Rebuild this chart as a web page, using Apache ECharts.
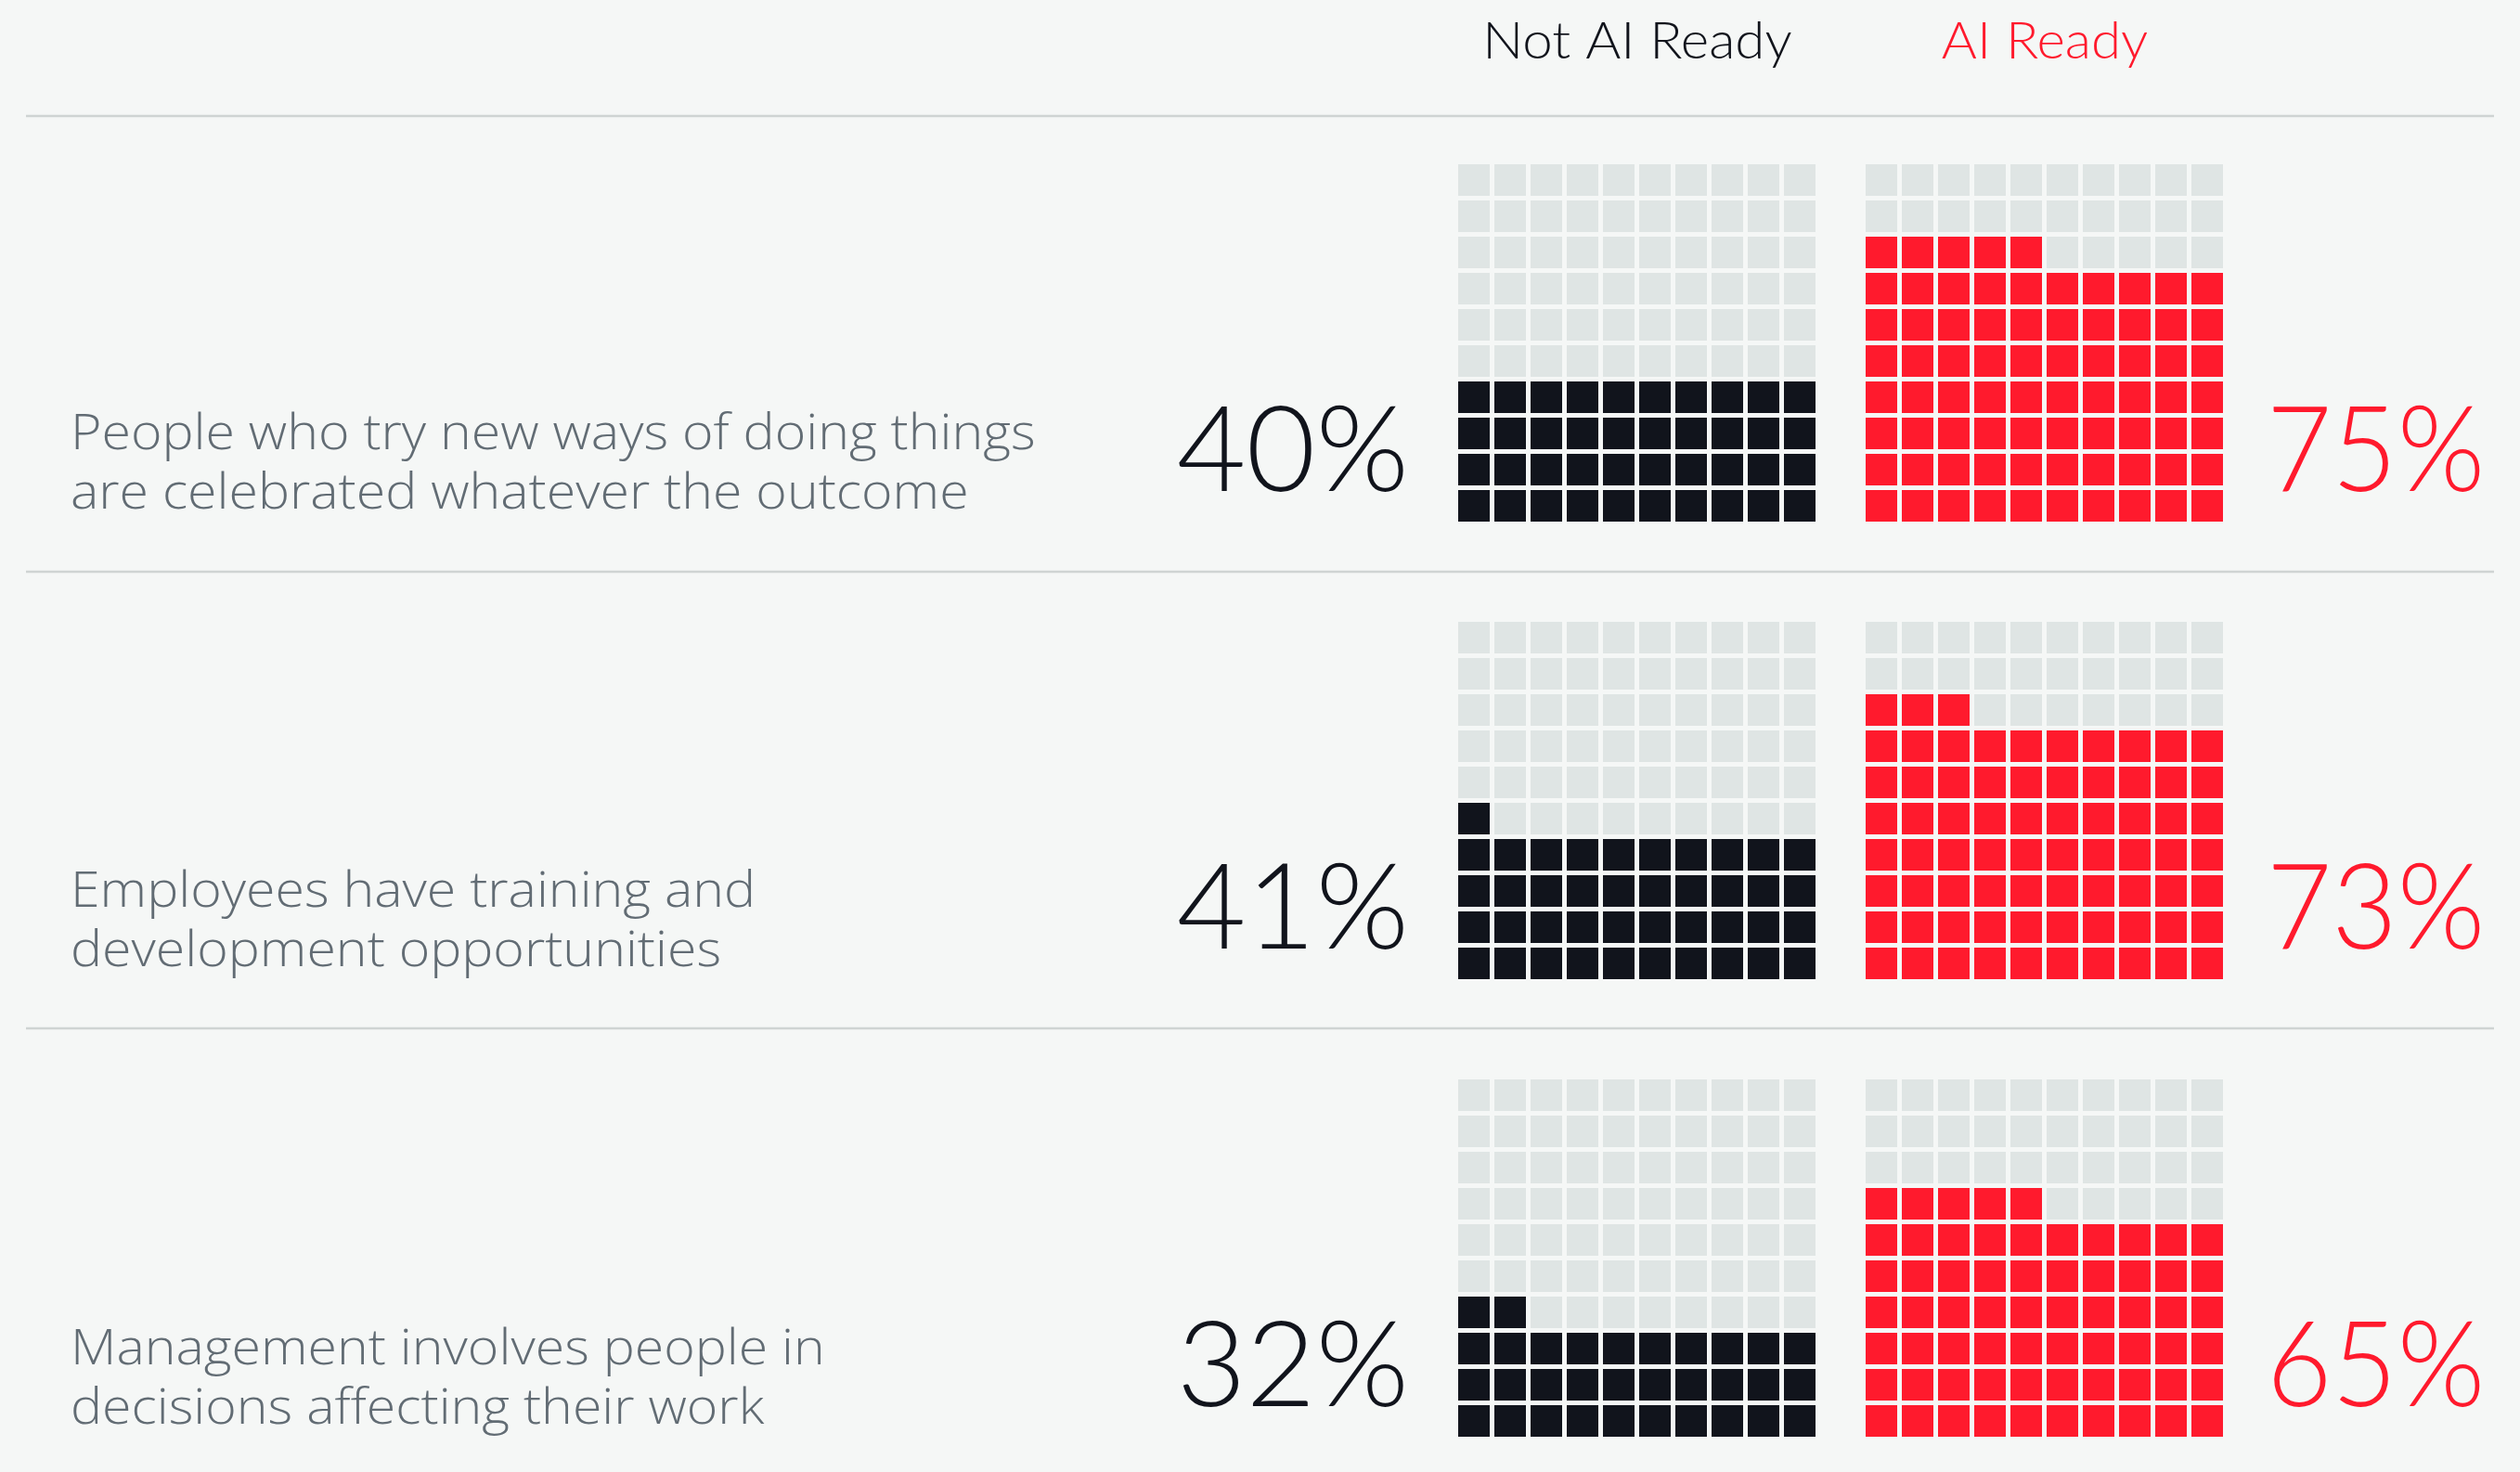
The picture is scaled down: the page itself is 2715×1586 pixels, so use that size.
<!DOCTYPE html>
<html><head><meta charset="utf-8">
<script src="https://cdn.jsdelivr.net/npm/echarts@6/dist/echarts.min.js"></script>
<style>html,body{margin:0;padding:0;background:#f5f7f6;}#c{width:2715px;height:1586px;}</style>
</head><body><div id="c"></div>
<script>
// ---- data ----
const categories = [
  "People who try new ways of doing things\nare celebrated whatever the outcome",
  "Employees have training and\ndevelopment opportunities",
  "Management involves people in\ndecisions affecting their work"
];
const seriesNames = ["Not AI Ready", "AI Ready"];
const notAiReady = [40, 41, 32];
const aiReady = [75, 73, 65];

// ---- styling / layout ----
const BG = '#f5f7f6', DARK = '#11141c', RED = '#ff1a2d', EMPTY = '#dfe5e4', LABEL = '#626c74', RULE = '#cfd4d3';
const rowTops = [177, 670, 1163];
const colLefts = [1571, 2010];
const gridSize = 390, gap = 5;
const FONT = 'Lato';

function waffleCells(value) {
  const out = [];
  for (let i = 0; i < 100; i++) out.push([i % 10, Math.floor(i / 10), i < value ? 1 : 0]);
  return out;
}

const grids = [], xAxes = [], yAxes = [], series = [], graphics = [];
const valuesBySeries = [notAiReady, aiReady];
const colors = [DARK, RED];
let gi = 0;
for (let r = 0; r < categories.length; r++) {
  for (let s = 0; s < 2; s++) {
    grids.push({left: colLefts[s], top: rowTops[r], width: gridSize, height: gridSize});
    xAxes.push({type: 'value', gridIndex: gi, min: 0, max: 10, show: false});
    yAxes.push({type: 'value', gridIndex: gi, min: 0, max: 10, show: false});
    const color = colors[s];
    series.push({
      type: 'custom', name: seriesNames[s], xAxisIndex: gi, yAxisIndex: gi,
      data: waffleCells(valuesBySeries[s][r]), animation: false,
      renderItem: function (params, api) {
        const p = api.coord([api.value(0), api.value(1) + 1]);
        const sz = api.size([1, 1]);
        return {type: 'rect', shape: {x: p[0], y: p[1], width: sz[0] - gap, height: sz[1] - gap},
          style: {fill: api.value(2) ? color : EMPTY}};
      }
    });
    gi++;
  }
  const base = rowTops[r];
  // category label
  graphics.push({type: 'text', x: 76, y: base + 260, scaleX: 1.08, style: {
    text: categories[r], font: '300 53px "Open Sans"', fill: LABEL, lineHeight: 64, textAlign: 'left', textVerticalAlign: 'top'}});
  // percentages
  graphics.push({type: 'text', x: 1518, y: base + 310, style: {
    text: notAiReady[r] + '%', font: '300 129px ' + FONT, fill: DARK, textAlign: 'right', textVerticalAlign: 'middle'}});
  graphics.push({type: 'text', x: 2442, y: base + 310, scaleX: 0.94, style: {
    text: aiReady[r] + '%', font: '300 129px ' + FONT, fill: RED, textAlign: 'left', textVerticalAlign: 'middle'}});
}
// headers
graphics.push({type: 'text', x: colLefts[0] + 193, y: 45, scaleX: 1.04, style: {text: seriesNames[0], font: '300 56px ' + FONT, fill: DARK, textAlign: 'center', textVerticalAlign: 'middle'}});
graphics.push({type: 'text', x: colLefts[1] + 193, y: 45, scaleX: 1.04, style: {text: seriesNames[1], font: '300 56px ' + FONT, fill: RED, textAlign: 'center', textVerticalAlign: 'middle'}});
// rules
[125, 616, 1108].forEach(y => graphics.push({type: 'line', shape: {x1: 28, y1: y, x2: 2687, y2: y}, style: {stroke: RULE, lineWidth: 2.5}}));

const chart = echarts.init(document.getElementById('c'), null, {renderer: 'canvas'});
chart.setOption({
  backgroundColor: BG, animation: false,
  grid: grids, xAxis: xAxes, yAxis: yAxes, series: series, graphic: graphics
});
</script></body></html>
